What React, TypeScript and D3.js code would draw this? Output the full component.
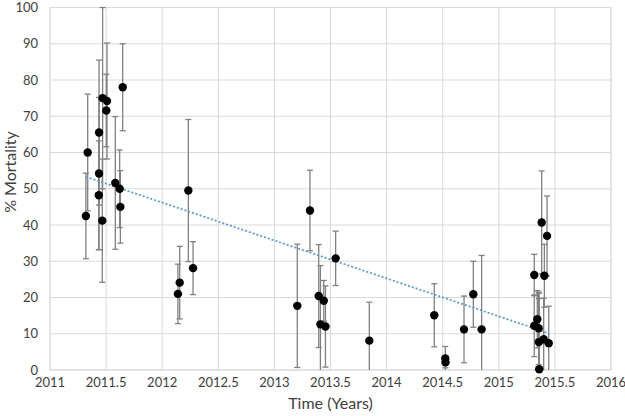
import React from "react";
import * as d3 from "d3";

const years = [
  2011.336, 2011.32, 2011.437, 2011.437, 2011.435, 2011.469, 2011.466, 2011.508,
  2011.502, 2011.582, 2011.621, 2011.627, 2011.648,
  2012.233, 2012.275, 2012.156, 2012.14,
  2013.317, 2013.204, 2013.395, 2013.41, 2013.44, 2013.455, 2013.546, 2013.846,
  2014.425, 2014.523, 2014.525, 2014.69, 2014.773, 2014.847,
  2015.382, 2015.43, 2015.316, 2015.406, 2015.343, 2015.316, 2015.355, 2015.357,
  2015.4, 2015.445, 2015.36,
];
const mortality = [
  60.0, 42.5, 65.5, 54.2, 48.2, 75.0, 41.2, 74.2,
  71.6, 51.6, 50.0, 45.0, 78.0,
  49.5, 28.1, 24.1, 21.0,
  44.0, 17.7, 20.4, 12.6, 19.1, 12.0, 30.8, 8.1,
  15.1, 3.2, 2.1, 11.2, 20.9, 11.2,
  40.7, 37.0, 26.2, 26.0, 14.0, 12.2, 11.5, 7.7,
  8.5, 7.4, 0.2,
];
const errors = [
  16.1, 11.8, 20.0, 21.0, 15.0, 25.0, 17.0, 16.0,
  10.0, 18.3, 10.7, 10.0, 12.0,
  19.6, 7.3, 10.0, 8.2,
  11.1, 17.0, 14.2, 16.2, 5.6, 11.2, 7.5, 10.6,
  8.7, 3.3, 1.5, 9.2, 9.1, 20.4,
  14.2, 11.0, 5.7, 8.7, 7.9, 8.5, 10.0, 12.0,
  11.3, 10.2, 21.0,
];
const trendYears = [2011.32, 2015.45];
const trendValues = [53.3, 10.1];
const xTicks = [2011, 2011.5, 2012, 2012.5, 2013, 2013.5, 2014, 2014.5, 2015, 2015.5, 2016];
const yTicks = [0, 10, 20, 30, 40, 50, 60, 70, 80, 90, 100];

const W = 625;
const H = 416;
const L = 50, R = 611, T = 7.5, B = 370;
const FONT = "Lato, 'Open Sans', 'Liberation Sans', sans-serif";

export default function App() {
  const x = d3.scaleLinear().domain([2011, 2016]).range([L, R]);
  const y = d3.scaleLinear().domain([0, 100]).range([B, T]);
  const clampV = (v: number) => Math.max(0, Math.min(100, v));
  const line = d3.line<number>().x((_, i) => x(trendYears[i])).y((d) => y(d));

  return (
    <svg width={W} height={H} style={{ position: "absolute", left: 0, top: 0, background: "#fff" }}>
      {yTicks.map((t) => (
        <line key={"gy" + t} x1={L} x2={R} y1={y(t)} y2={y(t)} stroke="#d9d9d9" strokeWidth={1} />
      ))}
      {xTicks.map((t) => (
        <line key={"gx" + t} x1={x(t)} x2={x(t)} y1={T} y2={B} stroke="#d9d9d9" strokeWidth={1} />
      ))}
      <rect x={L} y={T} width={R - L} height={B - T} fill="none" stroke="#d9d9d9" strokeWidth={1} />
      {yTicks.map((t) => (
        <text key={"ty" + t} x={38} y={y(t) + 4.5} textAnchor="end" fontFamily={FONT} fontSize={13} fill="#404040">
          {String(t)}
        </text>
      ))}
      {xTicks.map((t) => (
        <text key={"tx" + t} x={x(t)} y={387} textAnchor="middle" fontFamily={FONT} fontSize={13} fill="#404040">
          {String(t)}
        </text>
      ))}
      <text x={(L + R) / 2} y={409} textAnchor="middle" fontFamily={FONT} fontSize={16} fill="#404040">
        Time (Years)
      </text>
      <text
        transform={`translate(16, 172) rotate(-90)`}
        textAnchor="middle"
        fontFamily={FONT}
        fontSize={16}
        fill="#404040"
      >
        % Mortality
      </text>
      {years.map((yr, i) => {
        const cx = x(yr);
        const hi = clampV(mortality[i] + errors[i]);
        const lo = clampV(mortality[i] - errors[i]);
        const capLo = mortality[i] - errors[i] >= 0;
        return (
          <g key={"e" + i} stroke="#808080" strokeWidth={1.3}>
            <line x1={cx} x2={cx} y1={y(hi)} y2={y(lo)} />
            <line x1={cx - 3} x2={cx + 3} y1={y(hi)} y2={y(hi)} />
            {capLo && <line x1={cx - 3} x2={cx + 3} y1={y(lo)} y2={y(lo)} />}
          </g>
        );
      })}
      <path d={line(trendValues) || ""} fill="none" stroke="#5b9bd5" strokeWidth={1.8} strokeDasharray="2,2" />
      {years.map((yr, i) => (
        <circle key={"p" + i} cx={x(yr)} cy={y(mortality[i])} r={4.2} fill="#000" />
      ))}
    </svg>
  );
}
